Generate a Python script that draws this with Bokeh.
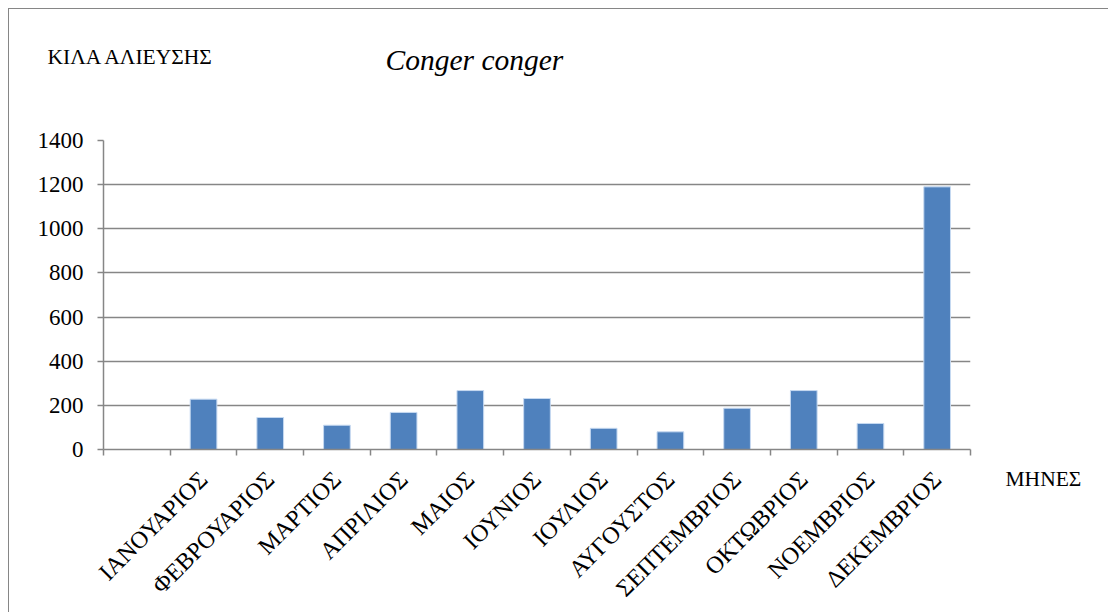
import math
from bokeh.plotting import figure
from bokeh.models import Range1d, FixedTicker, Label
from bokeh.embed import file_html
from bokeh.resources import INLINE

# ---- data ----
categories = ["", "ΙΑΝΟΥΑΡΙΟΣ", "ΦΕΒΡΟΥΑΡΙΟΣ", "ΜΑΡΤΙΟΣ", "ΑΠΡΙΛΙΟΣ", "ΜΑΙΟΣ",
              "ΙΟΥΝΙΟΣ", "ΙΟΥΛΙΟΣ", "ΑΥΓΟΥΣΤΟΣ", "ΣΕΠΤΕΜΒΡΙΟΣ", "ΟΚΤΩΒΡΙΟΣ",
              "ΝΟΕΜΒΡΙΟΣ", "ΔΕΚΕΜΒΡΙΟΣ"]
catch_kg = [None, 228, 145, 110, 168, 267, 231, 96, 80, 187, 267, 118, 1190]
y_ticks = [0, 200, 400, 600, 800, 1000, 1200, 1400]
title_text = "Conger conger"
y_title = "ΚΙΛΑ ΑΛΙΕΥΣΗΣ"
x_title = "ΜΗΝΕΣ"

FONT = "Liberation Serif"
GRAY = "#868686"

n = len(categories)
xs = [i + 0.5 for i, v in enumerate(catch_kg) if v is not None]
tops = [v for v in catch_kg if v is not None]

p = figure(width=1100, height=604,
           x_range=Range1d(0, n), y_range=Range1d(0, y_ticks[-1]),
           output_backend="svg", toolbar_location=None,
           min_border_left=94, min_border_right=139,
           min_border_top=131, min_border_bottom=162)
p.styles = {"margin": "8px 0 0 8px",
            "border-left": f"1px solid {GRAY}", "border-top": f"1px solid {GRAY}"}
p.outline_line_color = None
p.background_fill_color = "white"
p.border_fill_color = "white"

p.vbar(x=xs, top=tops, bottom=0, width=0.4,
       fill_color="#4F81BD", line_color="#C6D9F1", line_width=1)

# grid
p.xgrid.grid_line_color = None
p.ygrid.ticker = FixedTicker(ticks=y_ticks)
p.ygrid.grid_line_color = GRAY
p.ygrid.grid_line_width = 1.5

# x axis: labels at category centres, tick marks at category boundaries
xa = p.xaxis[0]
xa.ticker = FixedTicker(ticks=[i + 0.5 for i in range(n)], minor_ticks=list(range(n + 1)))
xa.major_label_overrides = {i + 0.5: c for i, c in enumerate(categories)}
xa.major_tick_line_color = None
xa.major_tick_out = 6
xa.major_tick_in = 0
xa.minor_tick_line_color = GRAY
xa.minor_tick_line_width = 1.5
xa.minor_tick_out = 6
xa.minor_tick_in = 0
xa.axis_line_color = GRAY
xa.axis_line_width = 1.5
xa.major_label_orientation = math.pi / 4
xa.major_label_standoff = 20
xa.major_label_text_font = FONT
xa.major_label_text_font_size = "24px"
xa.major_label_text_color = "black"

# y axis
ya = p.yaxis[0]
ya.ticker = FixedTicker(ticks=y_ticks)
ya.minor_tick_line_color = None
ya.major_tick_line_color = GRAY
ya.major_tick_line_width = 1.5
ya.major_tick_out = 6
ya.major_tick_in = 0
ya.axis_line_color = GRAY
ya.axis_line_width = 1.5
ya.major_label_standoff = 14
ya.major_label_text_font = FONT
ya.major_label_text_font_size = "23px"
ya.major_label_text_color = "black"

# free-floating texts, placed in the side panels (screen offsets from the plot area)
p.add_layout(Label(x=-56, y=84, x_units="screen", y_units="screen", text=y_title,
                   text_font=FONT, text_font_size="21.5px", text_color="black",
                   text_baseline="alphabetic", text_align="left"), "above")
p.add_layout(Label(x=282, y=56.5, x_units="screen", y_units="screen", text=title_text,
                   text_font=FONT, text_font_size="29.5px", text_font_style="italic",
                   text_color="black", text_baseline="alphabetic", text_align="left"), "above")
p.add_layout(Label(x=35, y=-29, x_units="screen", y_units="screen", text=x_title,
                   text_font=FONT, text_font_size="21.5px", text_color="black",
                   text_baseline="alphabetic", text_align="left"), "right")

open("out.html", "w").write(file_html(p, INLINE))
